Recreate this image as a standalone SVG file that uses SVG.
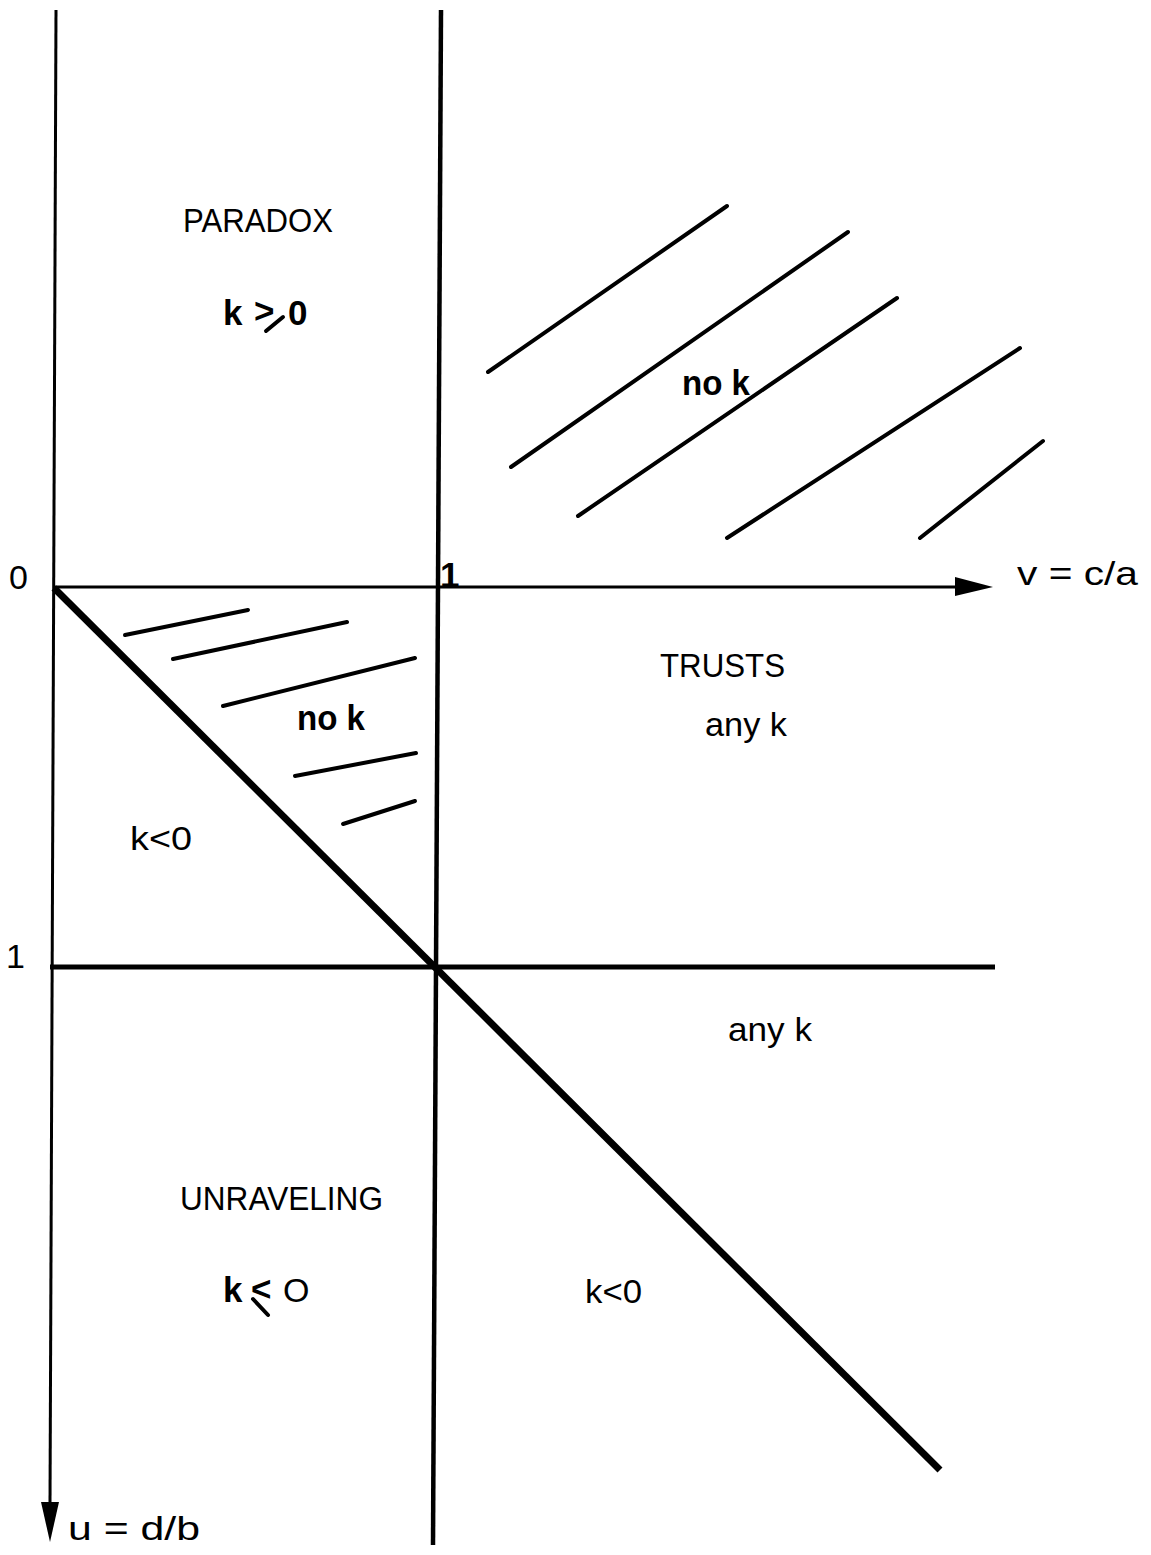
<svg xmlns="http://www.w3.org/2000/svg" width="1151" height="1555" viewBox="0 0 1151 1555">
<style>
.ax{stroke:#000;fill:none;stroke-linecap:butt}
.h{stroke:#000;stroke-width:4;stroke-linecap:round;fill:none}
.t{font-family:"Liberation Sans",Arial,sans-serif;font-size:34px;fill:#000}
.b{font-family:"Liberation Sans",Arial,sans-serif;font-size:35px;font-weight:bold;fill:#000}
</style>
<rect width="1151" height="1555" fill="#fff"/>
<g id="connectors">
  <line class="ax" x1="56" y1="10" x2="50" y2="1505" stroke-width="3"/>
  <polygon points="41,1502 59,1502 50,1542" fill="#000"/>
  <line class="ax" x1="441" y1="10" x2="433" y2="1545" stroke-width="4.5"/>
  <line class="ax" x1="54" y1="587" x2="958" y2="587" stroke-width="3"/>
  <polygon points="955,577 993,587 955,596" fill="#000"/>
  <line class="ax" x1="50" y1="967" x2="995" y2="967" stroke-width="5"/>
  <line class="ax" x1="54" y1="588" x2="940" y2="1470" stroke-width="7"/>
</g>
<g id="hatch-upper">
  <line class="h" x1="488" y1="372" x2="727" y2="206"/>
  <line class="h" x1="511" y1="467" x2="848" y2="232"/>
  <line class="h" x1="578" y1="516" x2="897" y2="298"/>
  <line class="h" x1="727" y1="538" x2="1020" y2="348"/>
  <line class="h" x1="920" y1="538" x2="1043" y2="441"/>
</g>
<g id="hatch-lower">
  <line class="h" x1="125" y1="635" x2="248" y2="610"/>
  <line class="h" x1="173" y1="659" x2="347" y2="622"/>
  <line class="h" x1="223" y1="706" x2="415" y2="658"/>
  <line class="h" x1="295" y1="776" x2="416" y2="753"/>
  <line class="h" x1="343" y1="824" x2="415" y2="801"/>
</g>
<g id="axis-labels">
  <text class="t" x="9" y="589" font-size="30">0</text>
  <text class="b" x="440" y="587" font-size="30">1</text>
  <text class="t" x="6" y="968" font-size="30">1</text>
  <text class="t" x="1017" y="585" font-size="41" textLength="121" lengthAdjust="spacingAndGlyphs">v = c/a</text>
  <text class="t" x="68" y="1540" font-size="39" textLength="132" lengthAdjust="spacingAndGlyphs">u = d/b</text>
</g>
<g id="paradox">
  <text class="t" x="183" y="232" textLength="150" lengthAdjust="spacingAndGlyphs">PARADOX</text>
  <text class="b" x="223" y="325" font-size="37">k</text>
  <text class="b" x="254" y="323" font-size="32">&gt;</text>
  <line x1="266" y1="331" x2="283" y2="317" stroke="#000" stroke-width="4" stroke-linecap="round"/>
  <text class="b" x="288" y="325" font-size="37">0</text>
</g>
<g id="nok-upper"><text class="b" x="682" y="395" textLength="68" lengthAdjust="spacingAndGlyphs">no k</text></g>
<g id="nok-lower"><text class="b" x="297" y="730" textLength="68" lengthAdjust="spacingAndGlyphs">no k</text></g>
<g id="trusts">
  <text class="t" x="660" y="677" textLength="125" lengthAdjust="spacingAndGlyphs">TRUSTS</text>
  <text class="t" x="705" y="736" textLength="82" lengthAdjust="spacingAndGlyphs">any k</text>
</g>
<g id="k-neg-upper"><text class="t" x="130" y="850" textLength="62" lengthAdjust="spacingAndGlyphs">k&lt;0</text></g>
<g id="anyk-lower"><text class="t" x="728" y="1041" textLength="84" lengthAdjust="spacingAndGlyphs">any k</text></g>
<g id="unraveling">
  <text class="t" x="180" y="1210" textLength="203" lengthAdjust="spacingAndGlyphs">UNRAVELING</text>
  <text class="b" x="223" y="1302" font-size="36">k</text>
  <text class="b" x="251" y="1301" font-size="30">&lt;</text>
  <line x1="253" y1="1299" x2="268" y2="1315" stroke="#000" stroke-width="4" stroke-linecap="round"/>
  <text class="t" x="283" y="1302" font-size="34">O</text>
</g>
<g id="k-neg-lower"><text class="t" x="585" y="1303" textLength="57" lengthAdjust="spacingAndGlyphs">k&lt;0</text></g>
</svg>
